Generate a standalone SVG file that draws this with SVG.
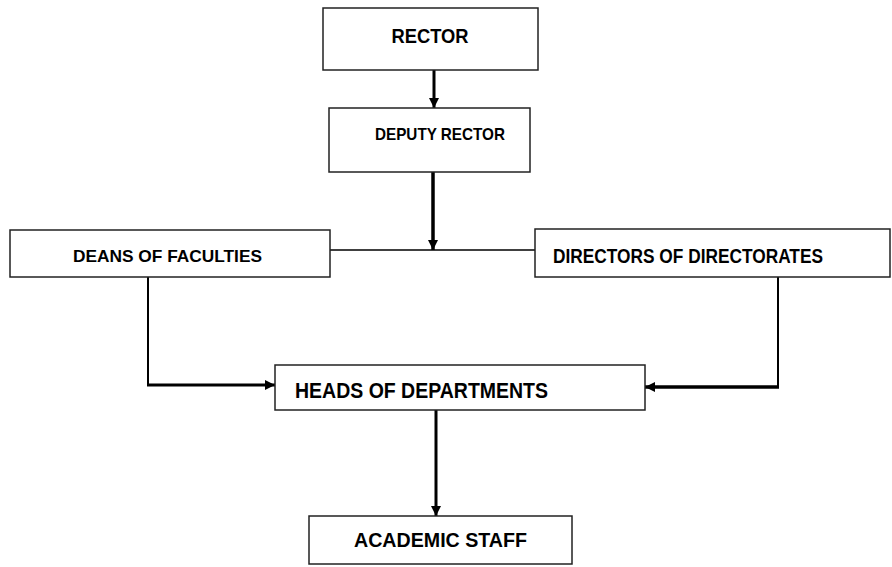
<svg xmlns="http://www.w3.org/2000/svg" width="892" height="567" viewBox="0 0 892 567">
<style>
.box{fill:#fff;stroke:#222;stroke-width:1.5}
.lbl{font-family:"Liberation Sans",Arial,sans-serif;font-weight:bold;fill:#000}
.ln{fill:none;stroke:#000}
</style>
<defs>
<marker id="ah" viewBox="0 0 10 10" refX="10" refY="5" markerWidth="10" markerHeight="10" markerUnits="userSpaceOnUse" orient="auto">
<path d="M0,0 L10,5 L0,10 Z" fill="#000"/>
</marker>
</defs>
<rect width="892" height="567" fill="#fff"/>
<g id="connectors">
<line class="ln" x1="434" y1="70" x2="434" y2="108" stroke-width="3" marker-end="url(#ah)"/>
<line class="ln" x1="433" y1="172" x2="433" y2="250" stroke-width="3.5" marker-end="url(#ah)"/>
<line class="ln" x1="330" y1="250" x2="535" y2="250" stroke-width="1.5"/>
<polyline class="ln" points="148,277 148,385 164,385" stroke-width="2"/>
<line class="ln" x1="147" y1="385" x2="275" y2="385" stroke-width="3" marker-end="url(#ah)"/>
<polyline class="ln" points="778,277 778,387" stroke-width="2"/>
<line class="ln" x1="779" y1="387" x2="645" y2="387" stroke-width="3.5" marker-end="url(#ah)"/>
<line class="ln" x1="436" y1="410" x2="436" y2="516" stroke-width="3" marker-end="url(#ah)"/>
</g>
<g id="rector">
<rect class="box" x="323" y="8" width="215" height="62"/>
<text class="lbl" x="430" y="43" font-size="21" text-anchor="middle" textLength="77" lengthAdjust="spacingAndGlyphs">RECTOR</text>
</g>
<g id="deputy-rector">
<rect class="box" x="329" y="108" width="201" height="64"/>
<text class="lbl" x="440" y="140" font-size="17" text-anchor="middle" textLength="130" lengthAdjust="spacingAndGlyphs">DEPUTY RECTOR</text>
</g>
<g id="deans">
<rect class="box" x="10" y="230" width="320" height="47"/>
<text class="lbl" x="73" y="262" font-size="17" textLength="189" lengthAdjust="spacingAndGlyphs">DEANS OF FACULTIES</text>
</g>
<g id="directors">
<rect class="box" x="535" y="229" width="355" height="48"/>
<text class="lbl" x="553" y="263" font-size="20" textLength="270" lengthAdjust="spacingAndGlyphs">DIRECTORS OF DIRECTORATES</text>
</g>
<g id="heads">
<rect class="box" x="275" y="365" width="370" height="45"/>
<text class="lbl" x="295" y="398" font-size="22" textLength="253" lengthAdjust="spacingAndGlyphs">HEADS OF DEPARTMENTS</text>
</g>
<g id="academic-staff">
<rect class="box" x="309" y="516" width="263" height="48"/>
<text class="lbl" x="354" y="547" font-size="21" textLength="173" lengthAdjust="spacingAndGlyphs">ACADEMIC STAFF</text>
</g>
</svg>
